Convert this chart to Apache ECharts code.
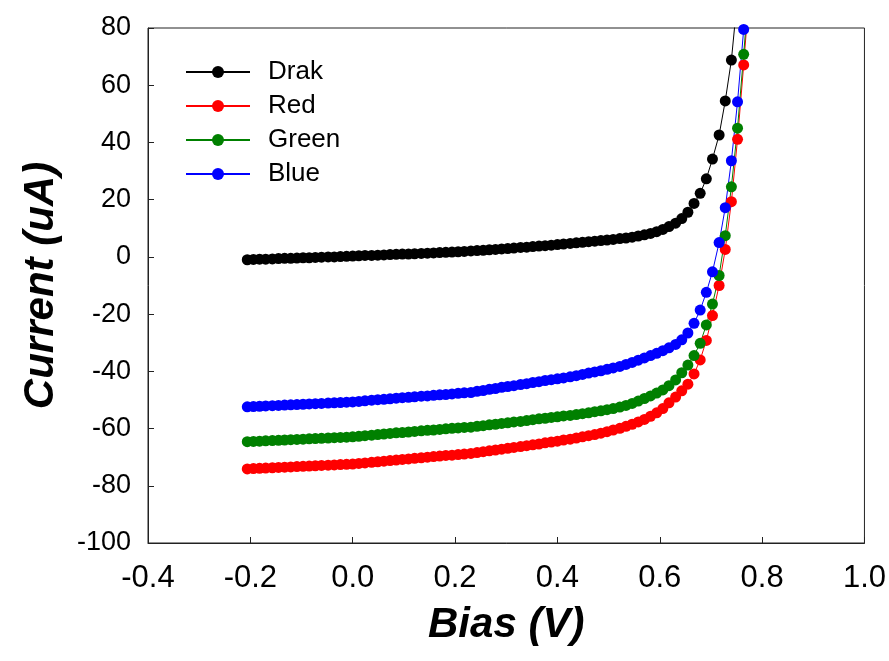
<!DOCTYPE html>
<html>
<head>
<meta charset="utf-8">
<script src="https://cdn.jsdelivr.net/npm/echarts@6/dist/echarts.min.js"></script>
<style>html,body{margin:0;padding:0;background:#fff;}#c{width:889px;height:661px;}</style>
</head>
<body>
<div id="c"></div>
<script>
// Bias voltage (V) grid shared by all sweeps
var bias = [-0.206,-0.194,-0.182,-0.170,-0.157,-0.145,-0.133,-0.121,-0.109,-0.097,
-0.085,-0.073,-0.061,-0.048,-0.036,-0.024,-0.012,0.000,0.012,0.024,
0.037,0.049,0.061,0.073,0.085,0.097,0.109,0.121,0.134,0.146,
0.158,0.170,0.182,0.194,0.206,0.218,0.231,0.243,0.255,0.267,
0.279,0.291,0.303,0.315,0.328,0.340,0.352,0.364,0.376,0.388,
0.400,0.412,0.425,0.437,0.449,0.461,0.473,0.485,0.497,0.509,
0.522,0.534,0.546,0.558,0.570,0.582,0.594,0.606,0.618,0.631,
0.643,0.655,0.667,0.679,0.691,0.703,0.716,0.728,0.740,0.752,
0.764,0.776];

var drak = [-1.0,-0.9,-0.8,-0.8,-0.7,-0.6,-0.5,-0.5,-0.4,-0.3,
-0.3,-0.2,-0.1,0.0,0.0,0.1,0.2,0.3,0.4,0.5,
0.5,0.6,0.7,0.8,0.9,1.0,1.0,1.1,1.2,1.3,
1.4,1.5,1.6,1.7,1.8,1.9,2.1,2.2,2.3,2.5,
2.6,2.8,2.9,3.1,3.3,3.4,3.6,3.8,3.9,4.1,
4.3,4.5,4.7,4.9,5.1,5.3,5.5,5.7,5.9,6.1,
6.4,6.6,6.9,7.3,7.7,8.2,8.8,9.6,10.6,11.8,
13.4,15.6,18.7,22.2,27.3,34.2,42.6,54.5,68.8,91.0];

var red = [-74.1,-74.0,-73.9,-73.8,-73.7,-73.6,-73.5,-73.4,-73.3,-73.2,
-73.1,-73.0,-72.9,-72.8,-72.7,-72.6,-72.5,-72.4,-72.2,-72.0,
-71.8,-71.6,-71.4,-71.2,-71.0,-70.8,-70.6,-70.4,-70.2,-70.0,
-69.8,-69.6,-69.4,-69.3,-69.1,-68.9,-68.7,-68.4,-68.1,-67.8,
-67.5,-67.2,-66.9,-66.6,-66.3,-66.0,-65.7,-65.4,-65.0,-64.7,
-64.4,-64.0,-63.7,-63.3,-62.9,-62.5,-62.1,-61.6,-61.1,-60.5,
-59.9,-59.2,-58.5,-57.7,-56.8,-55.7,-54.5,-53.0,-51.0,-49.0,
-46.8,-44.5,-40.9,-36.0,-29.2,-20.5,-10.0,2.6,19.3,41.1,
67.1,95.0];

var green = [-64.6,-64.5,-64.4,-64.3,-64.2,-64.1,-64.0,-63.9,-63.8,-63.7,
-63.6,-63.5,-63.4,-63.3,-63.2,-63.1,-63.0,-62.9,-62.7,-62.5,
-62.3,-62.1,-61.9,-61.7,-61.5,-61.4,-61.2,-61.0,-60.8,-60.6,
-60.5,-60.3,-60.1,-59.9,-59.8,-59.6,-59.5,-59.2,-59.0,-58.7,
-58.5,-58.2,-58.0,-57.7,-57.5,-57.2,-56.9,-56.6,-56.4,-56.1,
-55.9,-55.6,-55.4,-55.1,-54.8,-54.5,-54.1,-53.8,-53.4,-53.0,
-52.5,-51.9,-51.2,-50.4,-49.5,-48.6,-47.6,-46.5,-45.0,-43.0,
-40.5,-37.8,-34.5,-30.2,-23.8,-16.5,-6.5,7.4,24.5,45.0,
70.8,98.0];

var blue = [-52.4,-52.3,-52.2,-52.1,-52.0,-51.9,-51.8,-51.7,-51.6,-51.5,
-51.4,-51.3,-51.2,-51.1,-51.0,-50.9,-50.8,-50.7,-50.5,-50.3,
-50.1,-49.9,-49.8,-49.6,-49.4,-49.2,-49.1,-48.9,-48.7,-48.6,
-48.4,-48.2,-48.1,-47.9,-47.7,-47.5,-47.4,-47.0,-46.7,-46.3,
-46.0,-45.6,-45.3,-45.0,-44.6,-44.3,-43.9,-43.6,-43.2,-42.9,
-42.6,-42.3,-41.9,-41.5,-41.1,-40.6,-40.2,-39.8,-39.3,-38.8,
-38.3,-37.6,-36.9,-36.1,-35.3,-34.5,-33.7,-32.8,-31.8,-30.6,
-29.0,-26.6,-23.2,-18.6,-12.4,-5.2,5.0,17.2,33.6,54.2,
79.5,106.0];

var seriesNames = ['Drak', 'Red', 'Green', 'Blue'];
var seriesColors = ['#000000', '#ff0000', '#008000', '#0000ff'];
var seriesValues = [drak, red, green, blue];

function pairs(ys) {
  var out = [];
  for (var i = 0; i < ys.length; i++) out.push([bias[i], ys[i]]);
  return out;
}

var FONT = '"Liberation Sans", Arial, sans-serif';
var chart = echarts.init(document.getElementById('c'), null, {renderer: 'canvas'});

var series = seriesNames.map(function (n, k) {
  return {
    name: n,
    type: 'line',
    data: pairs(seriesValues[k]),
    symbol: 'circle',
    symbolSize: 11,
    clip: true,
    color: seriesColors[k],
    lineStyle: {width: 1, color: seriesColors[k]},
    itemStyle: {color: seriesColors[k]},
    emphasis: {disabled: true},
    animation: false
  };
});

chart.setOption({
  animation: false,
  grid: {left: 148, right: 23, top: 28, bottom: 118, show: true, borderColor: '#222', borderWidth: 1, backgroundColor: 'transparent'},
  legend: {
    orient: 'vertical',
    left: 180,
    top: 54,
    itemWidth: 64,
    itemHeight: 15,
    itemGap: 8,
    data: seriesNames,
    textStyle: {fontFamily: FONT, fontSize: 26, lineHeight: 26, color: '#000', padding: [0, 0, 0, 13]}
  },
  xAxis: {
    type: 'value',
    min: -0.4, max: 1.0, interval: 0.2,
    name: 'Bias (V)',
    nameLocation: 'middle',
    nameGap: 61,
    nameTextStyle: {fontFamily: FONT, fontSize: 42, fontWeight: 'bold', fontStyle: 'italic', color: '#000'},
    axisLine: {show: true, onZero: false, lineStyle: {color: '#222', width: 1}},
    axisTick: {show: true, inside: true, length: 6, lineStyle: {color: '#222'}},
    axisLabel: {fontFamily: FONT, fontSize: 31, color: '#000', margin: 20,
      formatter: function (v) { return Math.abs(v) < 1e-9 ? '0.0' : v.toFixed(1); }},
    splitLine: {show: false}
  },
  yAxis: {
    type: 'value',
    min: -100, max: 80, interval: 20,
    name: 'Current (uA)',
    nameLocation: 'middle',
    nameGap: 86,
    nameTextStyle: {fontFamily: FONT, fontSize: 42, fontWeight: 'bold', fontStyle: 'italic', color: '#000'},
    axisLine: {show: true, onZero: false, lineStyle: {color: '#222', width: 1}},
    axisTick: {show: true, inside: true, length: 6, lineStyle: {color: '#222'}},
    axisLabel: {fontFamily: FONT, fontSize: 27, color: '#000', margin: 17},
    splitLine: {show: false}
  },
  series: series
});
</script>
</body>
</html>
